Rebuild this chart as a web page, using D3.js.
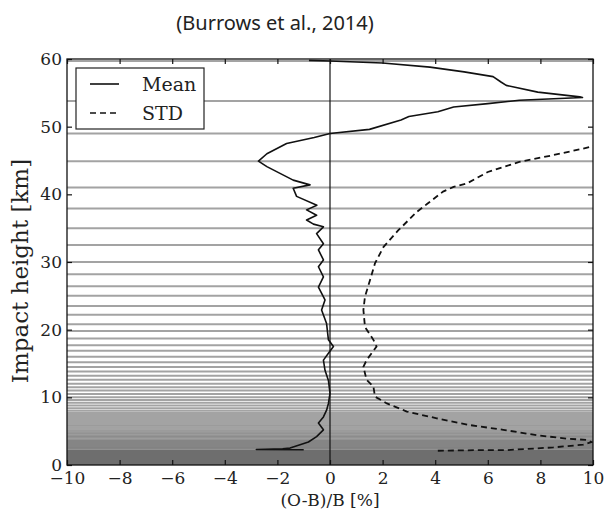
<!DOCTYPE html>
<html>
<head>
<meta charset="utf-8">
<script src="https://cdn.jsdelivr.net/npm/d3@7"></script>
<style>
  body { margin: 0; background: #fff; }
  svg text { font-family: "DejaVu Serif", serif; fill: #222; }
</style>
</head>
<body>
<div id="chart"></div>
<script>
// Mean (O-B)/B profile [value %, impact height km]
const meanValues = [-0.8, 0, 2.0, 3.8, 5.1, 6.2, 6.5, 6.7, 7.9, 9.5, 9.6, 7.2, 6.0, 4.7, 4.1, 3.0, 2.7, 1.5, 0, -0.6, -1.65, -2.4, -2.72, -2.4, -1.4, -0.76, -1.4, -1.27, -0.5, -0.89, -0.51, -0.89, -0.63, -0.25, -0.51, -0.25, -0.44, -0.25, -0.44, -0.25, -0.44, -0.19, -0.32, -0.13, -0.06, 0.13, -0.06, -0.25, -0.19, -0.06, 0, -0.06, -0.13, -0.25, -0.44, -0.25, -0.51, -0.82, -1.14, -1.52, -1.8, -2.8, -1.0];
const meanHeights = [59.8, 59.7, 59.4, 58.8, 58.1, 57.4, 56.6, 56.1, 55.1, 54.4, 54.3, 53.9, 53.4, 52.9, 52.2, 51.5, 51.0, 49.6, 49.0, 48.4, 47.5, 46.0, 44.9, 44.1, 42.1, 41.4, 40.9, 39.7, 38.4, 37.7, 36.9, 36.2, 35.6, 35.2, 34.2, 32.7, 31.8, 30.3, 29.3, 27.8, 26.3, 24.4, 22.9, 20.9, 18.5, 17.5, 16.5, 15.5, 14.0, 12.5, 10.6, 9.1, 8.1, 7.1, 6.2, 5.2, 4.2, 3.4, 3.0, 2.5, 2.4, 2.3, 2.25];

// STD profile
const stdValues = [10.6, 9.9, 8.5, 7.2, 6.0, 5.2, 4.7, 4.3, 3.7, 3.3, 2.6, 2.03, 1.71, 1.52, 1.33, 1.27, 1.33, 1.65, 1.77, 1.39, 1.27, 1.39, 1.65, 1.71, 2.16, 2.92, 4.06, 5.32, 6.59, 7.86, 9.0, 9.76, 9.94, 9.63, 8.49, 6.72, 5.7, 4.06];
const stdHeights = [47.5, 47.0, 45.8, 44.8, 43.3, 41.6, 41.1, 40.4, 38.6, 37.4, 34.7, 32.2, 29.8, 27.3, 24.9, 22.9, 20.4, 18.5, 17.5, 15.5, 14.5, 12.6, 11.6, 10.1, 9.1, 7.9, 6.9, 5.9, 5.2, 4.4, 3.9, 3.7, 3.4, 3.0, 2.6, 2.2, 2.2, 2.1];

// retrieval levels drawn as grey horizontal lines
const levels = [59.7, 53.8, 49.0, 44.9, 41.0, 37.9, 35.0, 32.5, 30.0, 28.2, 26.4, 25.0, 23.5, 22.2, 20.8, 19.8, 18.7, 17.7, 16.9, 16.0, 15.2, 14.5,
  13.8, 13.2, 12.6, 12.0, 11.5, 11.0, 10.5, 10.0, 9.6, 9.2, 8.8, 8.4, 8.0, 7.7, 7.4, 7.1, 6.8, 6.5, 6.2, 5.9, 5.65, 5.4, 5.15, 4.9, 4.7, 4.5,
  4.3, 4.1, 3.9, 3.7, 3.55, 3.4, 3.25, 3.1, 2.95, 2.8, 2.65, 2.5, 2.4];
const denseBand = [0, 2.3];

const xTicks = [-10, -8, -6, -4, -2, 0, 2, 4, 6, 8, 10];
const yTicks = [0, 10, 20, 30, 40, 50, 60];

const width = 606, height = 512;
const margin = { top: 59, right: 13, bottom: 47, left: 67 };

const svg = d3.select("#chart")
    .append("svg")
    .attr("width", width)
    .attr("height", height);

const x = d3.scaleLinear().domain([-10, 10]).range([margin.left, width - margin.right]);
const y = d3.scaleLinear().domain([0, 60]).range([height - margin.bottom, margin.top]);

svg.append("defs").append("clipPath").attr("id", "plotClip")
  .append("rect")
    .attr("x", x(-10)).attr("y", y(60))
    .attr("width", x(10) - x(-10)).attr("height", y(0) - y(60));

const plot = svg.append("g").attr("clip-path", "url(#plotClip)");

// dark band of very dense levels near the ground
plot.append("rect")
    .attr("x", x(-10))
    .attr("y", y(denseBand[1]))
    .attr("width", x(10) - x(-10))
    .attr("height", y(denseBand[0]) - y(denseBand[1]))
    .attr("fill", "#6e6e6e");

plot.selectAll(".level")
  .data(levels)
  .enter()
  .append("line")
    .attr("class", "level")
    .attr("x1", x(-10))
    .attr("x2", x(10))
    .attr("y1", d => y(d))
    .attr("y2", d => y(d))
    .attr("stroke", "#777")
    .attr("stroke-opacity", 0.68)
    .attr("stroke-width", 2);

// zero line
plot.append("line")
    .attr("x1", x(0)).attr("x2", x(0))
    .attr("y1", y(0)).attr("y2", y(60))
    .attr("stroke", "#111")
    .attr("stroke-width", 1.2);

const meanData = meanValues.map((v, i) => [v, meanHeights[i]]);
const stdData = stdValues.map((v, i) => [v, stdHeights[i]]);

const line = d3.line()
    .x(d => x(d[0]))
    .y(d => y(d[1]));

plot.append("path")
    .datum(meanData)
    .attr("fill", "none")
    .attr("stroke", "#111")
    .attr("stroke-width", 1.6)
    .attr("stroke-linejoin", "round")
    .attr("d", line);

plot.append("path")
    .datum(stdData)
    .attr("fill", "none")
    .attr("stroke", "#111")
    .attr("stroke-width", 1.8)
    .attr("stroke-dasharray", "6,4")
    .attr("d", line);

// axes (ticks point inwards, matplotlib style)
const fmt = d3.format("d");

svg.append("g")
    .attr("transform", `translate(0,${y(0)})`)
    .call(d3.axisBottom(x).tickValues(xTicks).tickSize(-5).tickPadding(7).tickFormat(fmt));
svg.append("g")
    .attr("transform", `translate(0,${y(60)})`)
    .call(d3.axisTop(x).tickValues(xTicks).tickSize(-5).tickFormat(""));

svg.append("g")
    .attr("transform", `translate(${x(-10)},0)`)
    .call(d3.axisLeft(y).tickValues(yTicks).tickSize(-5).tickPadding(5).tickFormat(fmt));
svg.append("g")
    .attr("transform", `translate(${x(10)},0)`)
    .call(d3.axisRight(y).tickValues(yTicks).tickSize(-5).tickFormat(""));

svg.selectAll(".domain").remove();
svg.selectAll(".tick line").attr("stroke", "#111").attr("stroke-width", 1.2);
svg.selectAll(".tick text")
    .style("font-family", "DejaVu Serif")
    .style("font-size", "17px")
    .attr("fill", "#222");

// frame
svg.append("rect")
    .attr("x", x(-10)).attr("y", y(60))
    .attr("width", x(10) - x(-10)).attr("height", y(0) - y(60))
    .attr("fill", "none")
    .attr("stroke", "#111")
    .attr("stroke-width", 1.3);

// legend
const legend = svg.append("g").attr("transform", "translate(76,68)");
legend.append("rect")
    .attr("width", 128).attr("height", 61)
    .attr("fill", "#fff").attr("stroke", "#222").attr("stroke-width", 1.2);
const legendItems = [
  { label: "Mean", dash: null },
  { label: "STD", dash: "6,4" }
];
legendItems.forEach((d, i) => {
  const ly = 16 + i * 29;
  legend.append("line")
      .attr("x1", 14).attr("x2", 43)
      .attr("y1", ly).attr("y2", ly)
      .attr("stroke", "#111").attr("stroke-width", 1.6)
      .attr("stroke-dasharray", d.dash);
  legend.append("text")
      .attr("x", 66).attr("y", ly + 7)
      .style("font-size", "19px")
      .text(d.label);
});

// axis labels and title
svg.append("text")
    .attr("x", x(0)).attr("y", 506)
    .attr("text-anchor", "middle")
    .style("font-size", "17px")
    .text("(O-B)/B [%]");

svg.append("text")
    .attr("transform", "translate(28,271) rotate(-90)")
    .attr("text-anchor", "middle")
    .style("font-size", "23px")
    .text("Impact height [km]");

svg.append("text")
    .attr("x", 275).attr("y", 30)
    .attr("text-anchor", "middle")
    .style("font-family", "'Noto Sans', sans-serif")
    .style("font-size", "20px")
    .text("(Burrows et al., 2014)");
</script>
</body>
</html>
